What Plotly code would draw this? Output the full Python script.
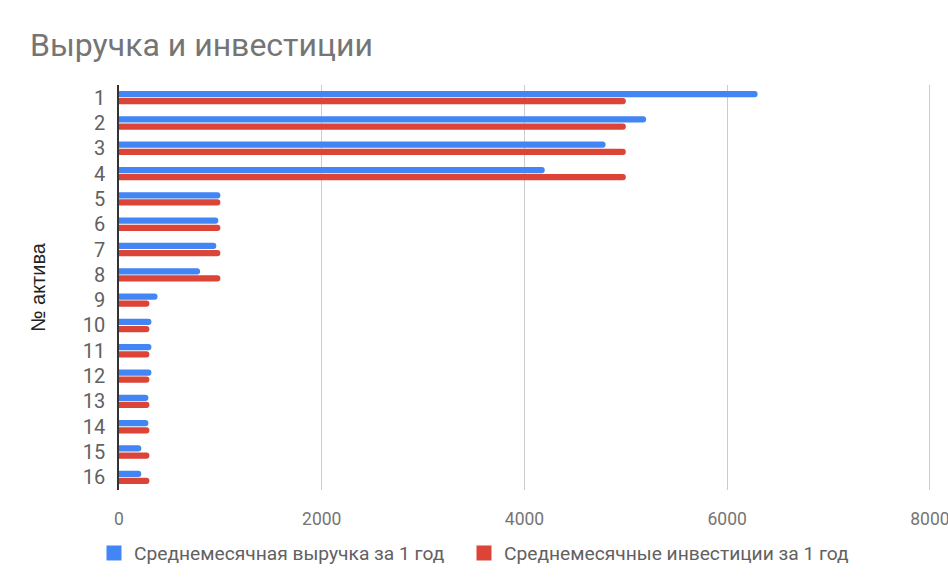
import plotly.graph_objects as go

categories = [str(i) for i in range(1, 17)]
revenue = [6300, 5200, 4800, 4200, 1000, 980, 960, 800, 380, 320, 320, 320, 290, 290, 220, 220]
investment = [5000, 5000, 5000, 5000, 1000, 1000, 1000, 1000, 300, 300, 300, 300, 300, 300, 300, 300]
x_ticks = [0, 2000, 4000, 6000, 8000]
series_names = ["Среднемесячная выручка за 1 год", "Среднемесячные инвестиции за 1 год"]
series_colors = ["#4285F4", "#DB4437"]

fig = go.Figure()
for vals, name, color in zip([revenue, investment], series_names, series_colors):
    fig.add_trace(go.Bar(y=categories, x=vals, orientation="h", name=name,
                         showlegend=False, marker=dict(color=color, line=dict(width=0))))
# legend entries with square swatches (one legend per series for exact placement)
for name, color, lg in zip(series_names, series_colors, ["legend", "legend2"]):
    fig.add_trace(go.Scatter(x=[None], y=[None], mode="markers", name=name, legend=lg,
                             marker=dict(symbol="square", size=15, color=color)))

legend_common = dict(orientation="h", xref="container", yref="container",
                     xanchor="left", y=1-553/578, yanchor="middle",
                     font=dict(size=19.2, color="#616161"), itemwidth=30,
                     bgcolor="rgba(0,0,0,0)")

fig.update_layout(
    width=948, height=578,
    margin=dict(l=119, r=13, t=85, b=88, autoexpand=False),
    paper_bgcolor="white", plot_bgcolor="white",
    font=dict(family="Roboto, sans-serif", color="#757575"),
    title=dict(text="Выручка и инвестиции", x=30/948, xanchor="left",
               y=1-45/578, yanchor="middle",
               font=dict(size=32, color="#757575")),
    barmode="group", bargap=0.44, bargroupgap=0.12,
    barcornerradius=3,
    showlegend=True,
    legend=dict(x=94/948, **legend_common),
    legend2=dict(x=464/948, **legend_common),
    xaxis=dict(range=[0, 8050], tickvals=x_ticks, ticktext=[str(v) for v in x_ticks],
               automargin=False, ticklabeloverflow="allow",
               showgrid=True, gridcolor="#cccccc", gridwidth=1,
               zeroline=False, showline=False, ticks="", ticklabelstandoff=16,
               tickfont=dict(size=17.5, color="#757575")),
    yaxis=dict(categoryorder="array", categoryarray=categories, autorange="reversed",
               automargin=False,
               showline=True, linecolor="#333333", linewidth=1.5,
               showgrid=False, ticks="", ticklabelstandoff=8,
               tickfont=dict(size=20, color="#616161"),
               title=dict(text="№ актива", font=dict(family="Liberation Sans, Arial, sans-serif",
                                                      size=20, color="#222222"), standoff=32)),
)

fig.write_html("out.html")
